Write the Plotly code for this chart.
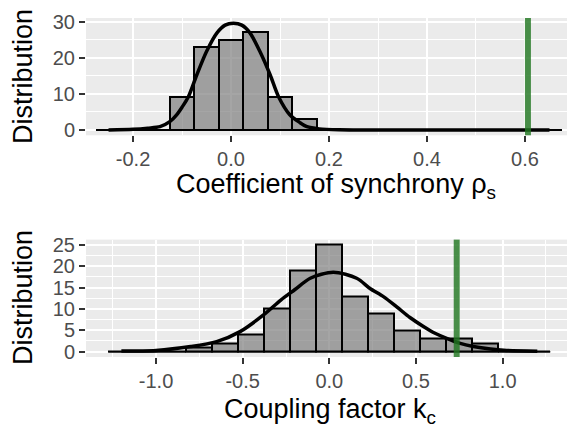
import plotly.graph_objects as go

# histogram of the coefficient of synchrony (bin centres, counts)
rho_bins = [-0.25, -0.2, -0.15, -0.1, -0.05, 0.0, 0.05, 0.1, 0.15, 0.2,
            0.25, 0.3, 0.35, 0.4, 0.45, 0.5, 0.55, 0.6, 0.65]
rho_counts = [0, 0, 0, 9, 23, 25, 27, 9, 3, 0,
              0, 0, 0, 0, 0, 0, 0, 0, 0]
rho_width = 0.05
# fitted density curve
rho_curve_x = [-0.25, -0.2, -0.17, -0.145, -0.125, -0.111, -0.1, -0.087, -0.07, -0.05,
               -0.029, -0.012, 0.005, 0.022, 0.039, 0.059, 0.08, 0.097, 0.12, 0.14,
               0.155, 0.18, 0.22, 0.3, 0.4, 0.5, 0.65]
rho_curve_y = [0.0, 0.2, 0.5, 0.9, 2.3, 4.2, 6.3, 9.2, 15.2, 21.7,
               26.8, 29.0, 29.5, 29.0, 26.8, 21.7, 15.2, 9.2, 4.2, 2.1,
               0.9, 0.3, 0.05, 0.0, 0.0, 0.0, 0.0]
rho_observed = 0.606

# histogram of the coupling factor
kc_bins = [-1.2, -1.05, -0.9, -0.75, -0.6, -0.45, -0.3, -0.15, 0.0,
           0.15, 0.3, 0.45, 0.6, 0.75, 0.9, 1.05, 1.2]
kc_counts = [0, 0, 0, 1, 2, 4, 10, 19, 25,
             13, 9, 5, 3, 3, 2, 0, 0]
kc_width = 0.15
kc_curve_x = [-1.2, -1.0, -0.8, -0.65, -0.515, -0.38, -0.28, -0.2, -0.11, 0.023,
              0.158, 0.235, 0.312, 0.389, 0.465, 0.543, 0.61, 0.677, 0.75, 0.831,
              0.93, 1.023, 1.2]
kc_curve_y = [0.15, 0.3, 1.2, 2.35, 4.7, 8.6, 12.1, 14.5, 17.2, 18.6,
              17.2, 14.8, 12.9, 10.5, 8.0, 5.9, 4.3, 3.1, 2.0, 1.2,
              0.6, 0.3, 0.1]
kc_observed = 0.735

FONT = "Liberation Sans, Arial, sans-serif"
BAR_FILL = "rgba(127,127,127,0.7)"
GREEN = "rgba(34,120,34,0.82)"
W, H = 575, 430
OFF = 8  # the page body adds an 8px margin


def px_x(p):
    return (p - OFF) / W


def px_y(p):
    return 1 - (p - OFF) / H


def add_panel(fig, bins, counts, width, cx, cy, xa, ya):
    fig.add_trace(go.Scatter(x=[bins[0] - width / 2, bins[-1] + width / 2], y=[0, 0],
                             mode="lines", line=dict(color="black", width=1.5),
                             xaxis=xa, yaxis=ya, hoverinfo="skip"))
    fig.add_trace(go.Bar(x=bins, y=counts, width=width,
                         marker=dict(color=BAR_FILL, line=dict(color="black", width=2)),
                         xaxis=xa, yaxis=ya))
    fig.add_trace(go.Scatter(x=cx, y=cy, mode="lines",
                             line=dict(color="black", width=3.5, shape="spline", smoothing=0.8),
                             xaxis=xa, yaxis=ya))


fig = go.Figure()
add_panel(fig, rho_bins, rho_counts, rho_width, rho_curve_x, rho_curve_y, "x", "y")
add_panel(fig, kc_bins, kc_counts, kc_width, kc_curve_x, kc_curve_y, "x2", "y2")

for xref, val in [("x", rho_observed), ("x2", kc_observed)]:
    yref = "y domain" if xref == "x" else "y2 domain"
    fig.add_shape(type="line", x0=val, x1=val, y0=0, y1=1, xref=xref, yref=yref,
                  line=dict(color=GREEN, width=6), layer="above")


def axis(minor_vals, **kw):
    return dict(
        showline=False, zeroline=False, automargin=False,
        ticks="outside", ticklen=6, tickwidth=2, tickcolor="#333333",
        showgrid=True, gridcolor="white", gridwidth=2.4,
        tickfont=dict(family=FONT, size=20, color="#4D4D4D"),
        minor=dict(showgrid=True, gridcolor="white", gridwidth=1.2, tickvals=minor_vals, ticks=""),
        **kw)


x_dom = [px_x(86), px_x(573)]
fig.update_layout(
    width=W, height=H,
    margin=dict(l=0, r=0, t=0, b=0, autoexpand=False),
    paper_bgcolor="white", plot_bgcolor="#EBEBEB",
    showlegend=False, barmode="overlay", bargap=0,
    font=dict(family=FONT),
    xaxis=axis([-0.3, -0.1, 0.1, 0.3, 0.5, 0.7],
               domain=x_dom, range=[-0.296, 0.698], anchor="y",
               tickvals=[-0.2, 0.0, 0.2, 0.4, 0.6], ticktext=["-0.2", "0.0", "0.2", "0.4", "0.6"]),
    yaxis=axis([5, 15, 25],
               domain=[px_y(135.3), px_y(18)], range=[-1.48, 30.98], anchor="x",
               tickvals=[0, 10, 20, 30]),
    xaxis2=axis([-1.25, -0.75, -0.25, 0.25, 0.75, 1.25],
                domain=x_dom, range=[-1.404, 1.406], anchor="y2",
                tickvals=[-1.0, -0.5, 0.0, 0.5, 1.0], ticktext=["-1.0", "-0.5", "0.0", "0.5", "1.0"]),
    yaxis2=axis([2.5, 7.5, 12.5, 17.5, 22.5],
                domain=[px_y(357), px_y(239.6)], range=[-1.25, 26.25], anchor="x2",
                tickvals=[0, 5, 10, 15, 20, 25]),
)

title_font = dict(family=FONT, size=27, color="black")
for text, x, y, angle in [
    ("Distribution", 23, 77, -90),
    ("Distribution", 23, 298, -90),
    ("Coefficient of synchrony ρ<sub>s</sub>", 336, 186, 0),
    ("Coupling factor k<sub>c</sub>", 330, 411, 0),
]:
    fig.add_annotation(text=text, x=px_x(x), y=px_y(y), xref="paper", yref="paper",
                       xanchor="center", yanchor="middle", textangle=angle,
                       showarrow=False, font=title_font)

fig.write_html("out.html")
